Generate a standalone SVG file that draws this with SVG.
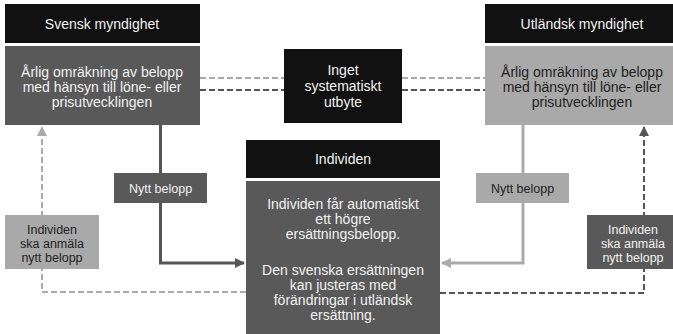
<svg xmlns="http://www.w3.org/2000/svg" width="673" height="334" viewBox="0 0 673 334">
<style>
text{font-family:"Liberation Sans","Noto Sans",Arial,sans-serif;text-anchor:middle}
.hd{fill:#111}
.dk{fill:#595959}
.lt{fill:#a9a9a9}
.th{fill:#f2f2f2;font-size:14px}
.tw{fill:#f2f2f2;font-size:14px}
.tb{fill:#222;font-size:14px}
.sw{fill:#f2f2f2;font-size:12.5px}
.sb{fill:#222;font-size:12.5px}
.dl{fill:none;stroke:#aaa;stroke-width:2;stroke-dasharray:6 3}
.dd{fill:none;stroke:#555;stroke-width:2;stroke-dasharray:6 3}
.sl{fill:none;stroke:#555;stroke-width:3}
.sll{fill:none;stroke:#aaa;stroke-width:3}
</style>
<defs>
<marker id="ad" viewBox="0 0 10 10" refX="9" refY="5" markerWidth="10" markerHeight="10" markerUnits="userSpaceOnUse" orient="auto"><path d="M0 0L10 5L0 10z" fill="#555"/></marker>
<marker id="al" viewBox="0 0 10 10" refX="9" refY="5" markerWidth="10" markerHeight="10" markerUnits="userSpaceOnUse" orient="auto"><path d="M0 0L10 5L0 10z" fill="#aaa"/></marker>
</defs>
<rect width="673" height="334" fill="#fff"/>
<g id="connectors">
<line class="dl" x1="200" y1="78" x2="284" y2="78"/>
<line class="dl" x1="402" y1="78" x2="485" y2="78"/>
<line class="dd" x1="200" y1="90" x2="284" y2="90"/>
<line class="dd" x1="402" y1="90" x2="485" y2="90"/>
<path class="dl" d="M246 292H42V127" marker-end="url(#al)"/>
<path class="dd" d="M440 293H644V127" marker-end="url(#ad)"/>
<path class="sl" d="M160.5 125V263H244" marker-end="url(#ad)"/>
<path class="sll" d="M523 125V263H442" marker-end="url(#al)"/>
</g>
<g id="svensk">
<rect class="hd" x="5" y="4" width="195" height="39"/>
<text class="th" x="102" y="29">Svensk myndighet</text>
<rect class="dk" x="5" y="46" width="195" height="79"/>
<text class="tw" x="102" y="77">Årlig omräkning av belopp</text>
<text class="tw" x="102" y="92">med hänsyn till löne- eller</text>
<text class="tw" x="102" y="107">prisutvecklingen</text>
</g>
<g id="inget">
<rect class="hd" x="284" y="49" width="118" height="74"/>
<text class="tw" x="343" y="75">Inget</text>
<text class="tw" x="343" y="91">systematiskt</text>
<text class="tw" x="343" y="107">utbyte</text>
</g>
<g id="utlandsk">
<rect class="hd" x="485" y="4" width="195" height="39"/>
<text class="th" x="582" y="29">Utländsk myndighet</text>
<rect class="lt" x="485" y="46" width="195" height="79"/>
<text class="tb" x="582" y="77">Årlig omräkning av belopp</text>
<text class="tb" x="582" y="92">med hänsyn till löne- eller</text>
<text class="tb" x="582" y="107">prisutvecklingen</text>
</g>
<g id="individen">
<rect class="hd" x="246" y="140" width="194" height="38"/>
<text class="th" x="343" y="164">Individen</text>
<rect class="dk" x="246" y="181" width="194" height="160"/>
<text class="tw" x="343" y="209">Individen får automatiskt</text>
<text class="tw" x="343" y="224">ett högre</text>
<text class="tw" x="343" y="239">ersättningsbelopp.</text>
<text class="tw" x="343" y="275">Den svenska ersättningen</text>
<text class="tw" x="343" y="290">kan justeras med</text>
<text class="tw" x="343" y="305">förändringar i utländsk</text>
<text class="tw" x="343" y="320">ersättning.</text>
</g>
<g id="nytt-vanster">
<rect class="dk" x="114" y="173" width="93" height="30"/>
<text class="sw" x="160.5" y="192.5">Nytt belopp</text>
</g>
<g id="nytt-hoger">
<rect class="lt" x="476" y="173" width="93" height="30"/>
<text class="sb" x="522.5" y="192.5">Nytt belopp</text>
</g>
<g id="anmala-vanster">
<rect class="lt" x="5" y="215" width="94" height="54"/>
<text class="sb" x="52" y="233.5">Individen</text>
<text class="sb" x="52" y="247.5">ska anmäla</text>
<text class="sb" x="52" y="261.5">nytt belopp</text>
</g>
<g id="anmala-hoger">
<rect class="dk" x="587" y="215" width="94" height="54"/>
<text class="sw" x="633" y="233.5">Individen</text>
<text class="sw" x="633" y="247.5">ska anmäla</text>
<text class="sw" x="633" y="261.5">nytt belopp</text>
</g>
</svg>
